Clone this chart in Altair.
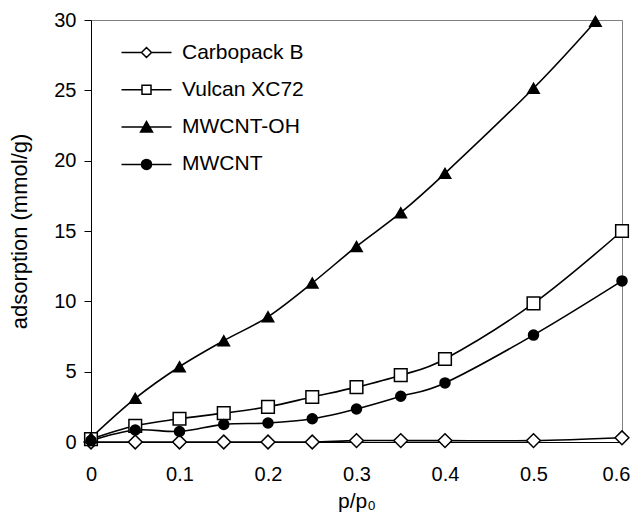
import altair as alt
import pandas as pd

series_names = ["Carbopack B", "Vulcan XC72", "MWCNT-OH", "MWCNT"]

p_common = [0, 0.05, 0.1, 0.15, 0.2, 0.25, 0.3, 0.35, 0.4, 0.5, 0.6]
carbopack = [0.0, 0.0, 0.0, 0.0, 0.0, 0.0, 0.1, 0.1, 0.1, 0.1, 0.3]
vulcan = [0.2, 1.15, 1.65, 2.05, 2.5, 3.2, 3.9, 4.75, 5.9, 9.85, 15.0]
mwcnt = [0.1, 0.85, 0.75, 1.25, 1.35, 1.65, 2.35, 3.25, 4.2, 7.6, 11.45]
p_oh = [0, 0.05, 0.1, 0.15, 0.2, 0.25, 0.3, 0.35, 0.4, 0.5, 0.57]
mwcnt_oh = [0.3, 3.1, 5.35, 7.2, 8.9, 11.3, 13.9, 16.3, 19.1, 25.15, 29.9]

x_ticks = [0, 0.1, 0.2, 0.3, 0.4, 0.5, 0.6]
y_ticks = [0, 5, 10, 15, 20, 25, 30]

marker_shapes = ["diamond", "square", "triangle-up", "circle"]
marker_fills = ["white", "white", "black", "black"]
marker_sizes = [190, 100, 280, 135]

legend_paths = [
    "M-5,0H-1M1,0H5M-1,0L0,-1L1,0L0,1Z",
    "M-5,0H-0.9M0.9,0H5M-0.9,-0.9H0.9V0.9H-0.9Z",
    "M-5,0H5M-1.2,1L0,-1.1L1.2,1Z",
    "M-5,0H5M-1,0A1,1,0,1,1,1,0A1,1,0,1,1,-1,0Z",
]

rows = []
for name, xs, ys in [
    ("Carbopack B", p_common, carbopack),
    ("Vulcan XC72", p_common, vulcan),
    ("MWCNT-OH", p_oh, mwcnt_oh),
    ("MWCNT", p_common, mwcnt),
]:
    for xv, yv in zip(xs, ys):
        rows.append({"series": name, "p": xv, "adsorption": yv})
df = pd.DataFrame(rows)

FONT = "Liberation Sans"

x_enc = alt.X(
    "p:Q",
    scale=alt.Scale(domain=[0, 0.6], nice=False, zero=False),
    axis=alt.Axis(values=x_ticks, format="~g", title="p/p₀", ticks=False,
                  labelPadding=22, titlePadding=6, grid=False, labelFlush=False,
                  labelOffset={"condition": {"test": "datum.value > 0.55", "value": -6},
                               "value": 0},
                  titleFontSize=21),
)
y_enc = alt.Y(
    "adsorption:Q",
    scale=alt.Scale(domain=[0, 30], nice=False),
    axis=alt.Axis(values=y_ticks, title="adsorption (mmol/g)", tickSize=7,
                  labelPadding=8, titlePadding=22, grid=False, labelFlush=False,
                  titleFontSize=22),
)

base = alt.Chart(df)

lines = base.mark_line(interpolate="cardinal", color="black", strokeWidth=1.6).encode(
    x=x_enc, y=y_enc, detail="series:N", order="p:Q"
)

points = base.mark_point(filled=True, stroke="black", strokeWidth=1.5, opacity=1).encode(
    x=x_enc,
    y=y_enc,
    shape=alt.Shape("series:N", scale=alt.Scale(domain=series_names, range=marker_shapes),
                    legend=None),
    fill=alt.Fill("series:N", scale=alt.Scale(domain=series_names, range=marker_fills),
                  legend=None),
    size=alt.Size("series:N", scale=alt.Scale(domain=series_names, range=marker_sizes),
                  legend=None),
)

leg = alt.Legend(
    title=None, orient="none", legendX=45, legendY=22, padding=0,
    labelFont=FONT, labelFontSize=21, labelColor="black", labelOffset=25,
    rowPadding=15.3, symbolSize=100, symbolStrokeWidth=1.5, symbolOpacity=1,
)

legend_layer = base.transform_filter("false").mark_point(
    filled=False, strokeWidth=1.5, size=100, opacity=1
).encode(
    x=x_enc,
    y=y_enc,
    shape=alt.Shape("series:N", scale=alt.Scale(domain=series_names, range=legend_paths),
                    legend=leg),
    fill=alt.Fill("series:N", scale=alt.Scale(domain=series_names, range=marker_fills),
                  legend=leg),
    stroke=alt.Stroke("series:N", scale=alt.Scale(domain=series_names,
                      range=["black", "black", "black", "black"]), legend=leg),
)

chart = alt.layer(lines, points, legend_layer).resolve_scale(
    shape="independent", fill="independent", size="independent", stroke="independent"
).properties(
    width=531, height=422,
    padding={"left": 83, "top": 12, "right": 10, "bottom": 70},
    autosize=alt.AutoSizeParams(type="none"),
).configure_view(
    stroke="#808080", strokeWidth=1
).configure_axis(
    labelFont=FONT, titleFont=FONT, labelFontSize=20, titleFontSize=21,
    labelColor="black", titleColor="black", domainColor="black", tickColor="black",
    titleFontWeight="normal", domainWidth=1,
)

chart.save("out.html", embed_options={"renderer": "svg", "actions": False})
